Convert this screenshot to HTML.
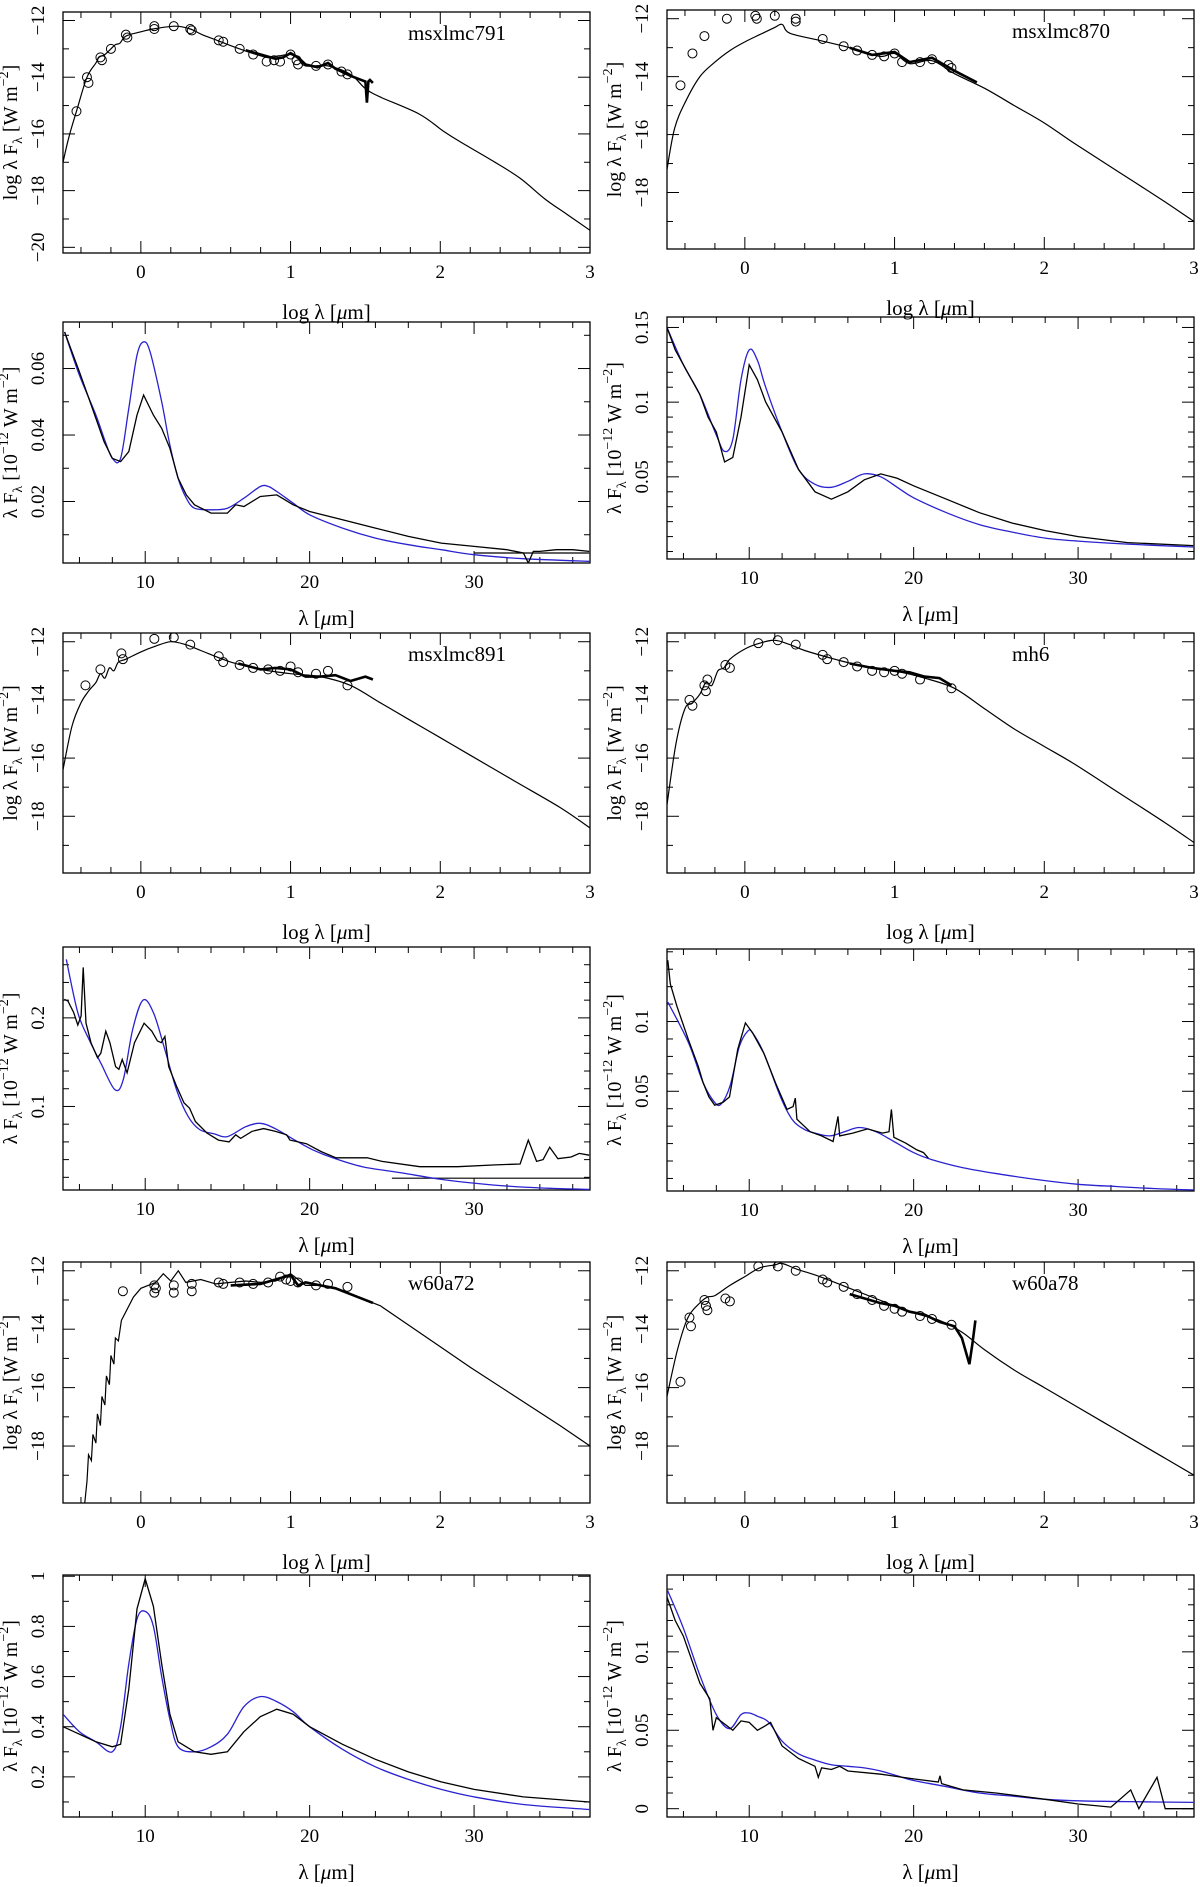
<!DOCTYPE html>
<html><head><meta charset="utf-8"><title>SED fits</title>
<style>
html,body{margin:0;padding:0;background:#fff;}
svg{display:block;font-family:"Liberation Serif",serif;}
</style></head>
<body>
<svg id="fig" xmlns="http://www.w3.org/2000/svg" width="1200" height="1887" viewBox="0 0 1200 1887"></svg>
<script>
// ===== Data arrays =====
// Panel A: msxlmc791 SED (log lambda, log lambda F)
const a_modelX=[-0.52,-0.48,-0.43,-0.36,-0.3,-0.28,-0.24,-0.2,-0.17,-0.14,-0.1,0,0.08,0.23,0.33,0.41,0.51,0.66,0.84,0.92,1.0,1.05,1.1,1.25,1.4,1.5,1.6,1.86,2.02,2.14,2.35,2.53,2.7,2.85,3.0];
const a_modelY=[-17.0,-16.1,-15.2,-14.0,-13.5,-13.3,-13.2,-13.0,-12.85,-12.8,-12.55,-12.4,-12.3,-12.2,-12.3,-12.5,-12.7,-13.0,-13.3,-13.25,-13.2,-13.35,-13.6,-13.6,-13.9,-14.4,-14.7,-15.3,-15.9,-16.3,-16.95,-17.55,-18.3,-18.85,-19.4];
const a_specX=[0.7,0.8,0.9,0.95,1.0,1.05,1.1,1.18,1.25,1.3,1.4,1.5,1.51,1.52,1.53,1.55];
const a_specY=[-13.05,-13.2,-13.35,-13.3,-13.15,-13.3,-13.55,-13.65,-13.5,-13.7,-13.95,-14.15,-14.9,-14.15,-14.1,-14.2];
const a_photX=[-0.43,-0.36,-0.35,-0.27,-0.26,-0.2,-0.1,-0.09,0.09,0.09,0.22,0.33,0.34,0.52,0.55,0.66,0.75,0.84,0.89,0.93,1.0,1.04,1.05,1.17,1.25,1.34,1.38];
const a_photY=[-15.2,-14.0,-14.2,-13.3,-13.4,-13.0,-12.5,-12.6,-12.2,-12.3,-12.2,-12.3,-12.35,-12.7,-12.75,-13.0,-13.2,-13.45,-13.4,-13.45,-13.2,-13.4,-13.55,-13.6,-13.55,-13.8,-13.9];
// Panel B: msxlmc870 SED
const b_modelX=[-0.52,-0.47,-0.4,-0.3,-0.2,-0.1,0,0.1,0.2,0.25,0.3,0.5,0.7,0.9,1.0,1.1,1.25,1.4,1.6,1.8,2.0,2.2,2.5,2.8,3.0];
const b_modelY=[-17.2,-15.8,-14.9,-14.0,-13.5,-13.1,-12.8,-12.55,-12.3,-12.2,-12.5,-12.75,-13.0,-13.3,-13.2,-13.55,-13.45,-13.9,-14.4,-15.0,-15.6,-16.3,-17.3,-18.3,-19.0];
const b_specX=[0.7,0.85,1.0,1.1,1.25,1.4,1.55];
const b_specY=[-13.0,-13.25,-13.15,-13.5,-13.35,-13.8,-14.2];
const b_photX=[-0.43,-0.35,-0.27,-0.12,0.07,0.08,0.2,0.34,0.34,0.52,0.66,0.75,0.85,0.93,1.0,1.05,1.17,1.25,1.36,1.38];
const b_photY=[-14.3,-13.2,-12.6,-12.0,-11.9,-12.0,-11.9,-12.1,-12.0,-12.7,-12.95,-13.1,-13.25,-13.3,-13.2,-13.5,-13.5,-13.4,-13.6,-13.7];
// Panel C: msxlmc791 spectrum (micron, 1e-12 W m-2)
const c_obsX=[5.1,6,6.5,7,7.5,8,8.5,9,9.5,9.9,10.5,11,11.5,12,12.5,13,14,15,15.5,16,17,18,19,20,22,24,26,28,30,32,33,33.3,33.6,34,35,36,37];
const c_obsY=[0.071,0.059,0.052,0.045,0.038,0.033,0.032,0.035,0.046,0.052,0.046,0.042,0.036,0.027,0.022,0.019,0.0165,0.0165,0.019,0.0185,0.0215,0.022,0.019,0.017,0.0145,0.012,0.0095,0.0075,0.0065,0.0055,0.0045,0.0015,0.005,0.005,0.0055,0.0055,0.005];
const c_modX=[5.1,6,7,7.5,8,8.5,9,9.5,9.9,10.3,11,11.5,12,12.5,13,14,15,16,17,17.5,18,19,20,22,24,26,28,30,33,37];
const c_modY=[0.071,0.058,0.046,0.039,0.033,0.033,0.048,0.064,0.068,0.065,0.05,0.037,0.027,0.021,0.018,0.0175,0.018,0.021,0.0245,0.0245,0.023,0.0195,0.016,0.012,0.009,0.007,0.0055,0.004,0.0028,0.002];
const c_refX=[30,37];
const c_refY=[0.0045,0.0045];
// Panel D: msxlmc870 spectrum
const d_obsX=[5,5.5,6,7,7.5,8,8.5,9,9.5,10,10.5,11,12,13,14,15,16,17,18,19,20,22,24,26,28,30,33,37];
const d_obsY=[0.15,0.135,0.125,0.105,0.09,0.08,0.06,0.063,0.09,0.125,0.115,0.1,0.08,0.055,0.04,0.035,0.04,0.048,0.052,0.049,0.044,0.035,0.026,0.019,0.014,0.01,0.006,0.004];
const d_modX=[5,6,7,8,8.5,9,9.5,10,10.5,11,12,13,14,15,16,17,18,19,20,22,24,26,28,30,33,37];
const d_modY=[0.15,0.125,0.105,0.078,0.067,0.075,0.115,0.135,0.128,0.11,0.08,0.055,0.045,0.043,0.047,0.052,0.05,0.043,0.036,0.026,0.018,0.013,0.009,0.007,0.005,0.003];
// Panel E: msxlmc891 SED
const e_modelX=[-0.52,-0.46,-0.4,-0.35,-0.3,-0.27,-0.24,-0.21,-0.18,-0.15,-0.1,0,0.1,0.2,0.3,0.4,0.6,0.8,1.0,1.2,1.4,1.6,1.8,2.0,2.2,2.5,2.8,3.0];
const e_modelY=[-16.4,-14.9,-14.1,-13.7,-13.4,-13.1,-13.25,-12.9,-13.0,-12.7,-12.6,-12.35,-12.15,-12.0,-12.1,-12.3,-12.7,-12.95,-13.1,-13.2,-13.5,-14.1,-14.7,-15.3,-15.9,-16.8,-17.7,-18.4];
const e_specX=[0.65,0.8,0.9,1.0,1.1,1.2,1.3,1.4,1.5,1.55];
const e_specY=[-12.75,-12.95,-12.9,-12.95,-13.2,-13.2,-13.15,-13.35,-13.2,-13.3];
const e_photX=[-0.37,-0.27,-0.13,-0.12,0.09,0.22,0.33,0.52,0.55,0.66,0.75,0.85,0.93,1.0,1.05,1.17,1.25,1.38];
const e_photY=[-13.5,-12.95,-12.4,-12.6,-11.9,-11.85,-12.1,-12.5,-12.7,-12.8,-12.9,-12.95,-13.0,-12.85,-13.05,-13.1,-13.0,-13.5];
// Panel F: mh6 SED
const f_modelX=[-0.52,-0.46,-0.4,-0.35,-0.3,-0.26,-0.22,-0.18,-0.14,-0.1,0,0.1,0.2,0.3,0.4,0.6,0.8,1.0,1.2,1.4,1.6,1.8,2.0,2.2,2.5,2.8,3.0];
const f_modelY=[-17.6,-15.5,-14.3,-14.1,-13.8,-13.4,-13.5,-13.0,-12.9,-12.6,-12.25,-12.05,-11.95,-12.1,-12.3,-12.6,-12.85,-13.0,-13.25,-13.6,-14.3,-15.0,-15.6,-16.2,-17.2,-18.2,-18.9];
const f_specX=[0.7,0.85,1.0,1.1,1.2,1.3,1.38];
const f_specY=[-12.75,-12.9,-13.0,-13.05,-13.2,-13.25,-13.5];
const f_photX=[-0.37,-0.35,-0.27,-0.26,-0.25,-0.13,-0.1,0.09,0.22,0.34,0.52,0.55,0.66,0.75,0.85,0.93,1.0,1.05,1.17,1.38];
const f_photY=[-14.0,-14.2,-13.5,-13.7,-13.3,-12.8,-12.9,-12.05,-11.95,-12.1,-12.45,-12.6,-12.7,-12.85,-13.0,-13.05,-13.0,-13.1,-13.3,-13.6];
// Panel G: msxlmc891 spectrum
const g_obsX=[5.07,5.3,5.65,5.9,6.1,6.23,6.4,6.7,7.1,7.3,7.6,7.85,8.2,8.4,8.6,8.9,9.35,9.93,10.4,10.74,10.97,11.2,11.43,11.9,12.36,12.7,13.05,13.75,14.45,15.1,15.5,15.8,16.5,17.2,17.9,18.6,18.8,19.8,20.7,21.6,23.5,24.4,26.7,29,31.3,32.8,33.3,33.8,34.2,34.6,35.1,35.9,36.4,37];
const g_obsY=[0.221,0.219,0.206,0.192,0.202,0.257,0.194,0.172,0.155,0.16,0.185,0.172,0.145,0.142,0.153,0.138,0.172,0.194,0.185,0.174,0.172,0.179,0.145,0.123,0.104,0.098,0.083,0.07,0.062,0.06,0.068,0.064,0.072,0.075,0.072,0.068,0.062,0.058,0.049,0.042,0.042,0.038,0.032,0.032,0.034,0.035,0.062,0.038,0.04,0.054,0.041,0.043,0.047,0.045];
const g_modX=[5.2,5.9,6.6,7.3,8.15,8.66,9.24,9.86,10.5,11.2,11.9,12.6,13.3,14.2,15,16.1,17,17.9,19.1,20.2,21.4,23.2,25.6,27.9,30.2,32.5,34.8,37];
const g_modY=[0.266,0.206,0.175,0.149,0.119,0.13,0.187,0.22,0.206,0.164,0.119,0.089,0.074,0.069,0.066,0.077,0.081,0.075,0.062,0.051,0.042,0.032,0.025,0.018,0.013,0.0095,0.0075,0.0064];
const g_refX=[25,37];
const g_refY=[0.019,0.019];
// Panel H: mh6 spectrum
const h_obsX=[5.05,5.2,5.6,6.3,6.9,7.2,7.55,7.9,8.4,8.8,9.3,9.77,10.2,10.9,11.6,12.3,12.67,12.8,12.9,13.7,14.4,15.1,15.4,15.5,16.3,17.2,18.1,18.5,18.65,18.8,19.5,20.2,20.6,20.9];
const h_obsY=[0.144,0.127,0.111,0.087,0.068,0.056,0.046,0.04,0.042,0.046,0.08,0.099,0.092,0.077,0.056,0.037,0.039,0.045,0.03,0.021,0.018,0.014,0.032,0.018,0.02,0.023,0.02,0.021,0.037,0.017,0.013,0.008,0.006,0.002];
const h_modX=[5.05,6.3,7.2,7.9,8.3,8.84,9.4,9.9,10.2,10.9,11.9,12.6,13.3,14,14.9,15.8,16.7,17.7,18.8,20,21.1,23,25.3,27.7,30,32.3,34.7,37];
const h_modY=[0.114,0.085,0.056,0.042,0.041,0.054,0.082,0.093,0.092,0.077,0.046,0.03,0.023,0.02,0.018,0.021,0.024,0.021,0.014,0.006,0.001,-0.0048,-0.0095,-0.0136,-0.0167,-0.0183,-0.0198,-0.0207];
// Panel I: w60a72 SED
const i_modelX=[-0.38,-0.36,-0.35,-0.33,-0.32,-0.3,-0.29,-0.27,-0.26,-0.24,-0.23,-0.21,-0.2,-0.18,-0.17,-0.15,-0.13,-0.1,-0.05,0,0.1,0.15,0.2,0.25,0.3,0.4,0.5,0.6,0.7,0.8,0.9,1.0,1.05,1.1,1.2,1.3,1.4,1.6,1.8,2.0,2.2,2.5,2.8,3.0];
const i_modelY=[-20.2,-19.2,-18.3,-18.5,-17.6,-17.9,-16.9,-17.3,-16.3,-16.6,-15.6,-15.9,-14.9,-15.2,-14.3,-14.4,-13.7,-13.4,-12.9,-12.6,-12.4,-12.1,-12.35,-12.0,-12.4,-12.3,-12.45,-12.4,-12.35,-12.4,-12.35,-12.1,-12.3,-12.5,-12.5,-12.6,-12.8,-13.2,-13.9,-14.6,-15.3,-16.3,-17.3,-18.0];
const i_specX=[0.6,0.8,0.9,1.0,1.05,1.1,1.2,1.3,1.45,1.55];
const i_specY=[-12.5,-12.45,-12.3,-12.15,-12.5,-12.4,-12.5,-12.6,-12.9,-13.1];
const i_photX=[-0.12,0.09,0.09,0.1,0.22,0.22,0.34,0.34,0.52,0.55,0.66,0.75,0.85,0.93,0.97,1.0,1.05,1.17,1.25,1.38];
const i_photY=[-12.7,-12.5,-12.75,-12.6,-12.5,-12.75,-12.45,-12.7,-12.4,-12.45,-12.4,-12.45,-12.4,-12.2,-12.3,-12.35,-12.4,-12.5,-12.45,-12.55];
// Panel J: w60a78 SED
const j_modelX=[-0.52,-0.45,-0.38,-0.3,-0.25,-0.2,-0.1,0,0.1,0.2,0.25,0.35,0.5,0.7,0.9,1.1,1.3,1.45,1.6,1.8,2.0,2.2,2.5,2.8,3.0];
const j_modelY=[-16.3,-14.7,-13.6,-13.1,-12.9,-12.85,-12.5,-12.2,-11.9,-11.8,-11.75,-11.95,-12.2,-12.6,-13.0,-13.4,-13.7,-14.1,-14.7,-15.4,-16.0,-16.6,-17.5,-18.4,-19.0];
const j_specX=[0.7,0.9,1.0,1.1,1.2,1.3,1.4,1.45,1.5,1.52,1.54];
const j_specY=[-12.8,-13.1,-13.2,-13.4,-13.5,-13.75,-13.9,-14.3,-15.2,-14.5,-13.7];
const j_photX=[-0.43,-0.37,-0.36,-0.27,-0.26,-0.25,-0.13,-0.1,0.09,0.22,0.34,0.52,0.55,0.66,0.75,0.85,0.93,1.0,1.05,1.17,1.25,1.38];
const j_photY=[-15.8,-13.6,-13.9,-13.0,-13.2,-13.35,-12.95,-13.05,-11.85,-11.85,-12.0,-12.3,-12.4,-12.55,-12.8,-13.0,-13.2,-13.3,-13.4,-13.55,-13.65,-13.85];
// Panel K: w60a72 spectrum
const k_obsX=[5,6,7,8,8.5,9,9.5,10,10.5,11,11.5,12,13,14,15,16,17,18,19,20,22,24,26,28,30,33,37];
const k_obsY=[0.4,0.37,0.34,0.32,0.33,0.55,0.87,0.99,0.88,0.65,0.45,0.34,0.3,0.29,0.3,0.38,0.44,0.47,0.45,0.4,0.33,0.27,0.22,0.18,0.15,0.12,0.1];
const k_modX=[5,6,7,8,8.5,9,9.5,10,10.5,11,11.5,12,13,14,15,16,17,18,19,20,22,24,26,28,30,33,37];
const k_modY=[0.45,0.38,0.34,0.3,0.4,0.65,0.83,0.86,0.8,0.6,0.43,0.32,0.3,0.32,0.37,0.48,0.52,0.5,0.46,0.4,0.31,0.24,0.19,0.15,0.12,0.09,0.07];
// Panel L: w60a78 spectrum
const l_obsX=[5,5.5,6,7,7.6,7.8,8,9,9.5,10,10.5,11,11.3,12,13,14,14.2,14.4,15,15.5,16,18,20,21.5,21.6,21.7,23,25,28,30,32,33.2,33.7,34.8,35.3,37];
const l_obsY=[0.135,0.12,0.11,0.08,0.07,0.05,0.058,0.05,0.056,0.055,0.05,0.053,0.055,0.04,0.032,0.027,0.02,0.026,0.025,0.027,0.024,0.022,0.019,0.017,0.021,0.016,0.012,0.01,0.006,0.003,0.001,0.012,0,0.02,0,0];
const l_modX=[5,6,7,8,8.8,9.5,10,10.5,11.2,12,13,14,15,16,17,18,19,20,22,24,26,28,30,33,37];
const l_modY=[0.14,0.115,0.085,0.06,0.051,0.06,0.061,0.059,0.055,0.043,0.035,0.031,0.028,0.027,0.026,0.024,0.021,0.018,0.014,0.01,0.008,0.006,0.005,0.0045,0.004];

// ===== Layout =====
const NS="http://www.w3.org/2000/svg";
const svg=document.getElementById('fig');
function mk(tag,attrs,parent){const e=document.createElementNS(NS,tag);for(const k in attrs)e.setAttribute(k,attrs[k]);(parent||svg).appendChild(e);return e;}

const panels=[
 {id:'msxlmc791-sed',type:'sed',x0:63,x1:590,y0:12,y1:253,ymin:-20.2,ymax:-11.7,name:'msxlmc791',mx:a_modelX,my:a_modelY,sx:a_specX,sy:a_specY,px:a_photX,py:a_photY},
 {id:'msxlmc870-sed',type:'sed',x0:667,x1:1194,y0:10,y1:249,ymin:-19.95,ymax:-11.7,name:'msxlmc870',mx:b_modelX,my:b_modelY,sx:b_specX,sy:b_specY,px:b_photX,py:b_photY},
 {id:'msxlmc791-spectrum',type:'spec',x0:63,x1:590,y0:322,y1:563,ymin:0.0015,ymax:0.074,minor:0.01,labels:[0.02,0.04,0.06],ox:c_obsX,oy:c_obsY,bx:c_modX,by:c_modY,rx:c_refX,ry:c_refY},
 {id:'msxlmc870-spectrum',type:'spec',x0:667,x1:1194,y0:317,y1:559,ymin:-0.005,ymax:0.157,minor:0.01,labels:[0.05,0.1,0.15],ox:d_obsX,oy:d_obsY,bx:d_modX,by:d_modY},
 {id:'msxlmc891-sed',type:'sed',x0:63,x1:590,y0:633,y1:873,ymin:-19.95,ymax:-11.7,name:'msxlmc891',mx:e_modelX,my:e_modelY,sx:e_specX,sy:e_specY,px:e_photX,py:e_photY},
 {id:'mh6-sed',type:'sed',x0:667,x1:1194,y0:633,y1:873,ymin:-19.95,ymax:-11.7,name:'mh6',mx:f_modelX,my:f_modelY,sx:f_specX,sy:f_specY,px:f_photX,py:f_photY},
 {id:'msxlmc891-spectrum',type:'spec',x0:63,x1:590,y0:947,y1:1190,ymin:0.0057,ymax:0.28,minor:0.02,labels:[0.1,0.2],ox:g_obsX,oy:g_obsY,bx:g_modX,by:g_modY,rx:g_refX,ry:g_refY},
 {id:'mh6-spectrum',type:'spec',x0:667,x1:1194,y0:949,y1:1191,ymin:-0.0215,ymax:0.152,minor:0.0125,labels:[0.05,0.1],ox:h_obsX,oy:h_obsY,bx:h_modX,by:h_modY},
 {id:'w60a72-sed',type:'sed',x0:63,x1:590,y0:1262,y1:1503,ymin:-19.95,ymax:-11.7,name:'w60a72',mx:i_modelX,my:i_modelY,sx:i_specX,sy:i_specY,px:i_photX,py:i_photY,jag:true},
 {id:'w60a78-sed',type:'sed',x0:667,x1:1194,y0:1262,y1:1503,ymin:-19.95,ymax:-11.7,name:'w60a78',mx:j_modelX,my:j_modelY,sx:j_specX,sy:j_specY,px:j_photX,py:j_photY},
 {id:'w60a72-spectrum',type:'spec',x0:63,x1:590,y0:1575,y1:1817,ymin:0.04,ymax:1.005,minor:0.1,labels:[0.2,0.4,0.6,0.8,1],ox:k_obsX,oy:k_obsY,bx:k_modX,by:k_modY},
 {id:'w60a78-spectrum',type:'spec',x0:667,x1:1194,y0:1575,y1:1817,ymin:-0.0053,ymax:0.149,minor:0.01,labels:[0,0.05,0.1],ox:l_obsX,oy:l_obsY,bx:l_modX,by:l_modY}
];

function fmt(v){return (v<0?'\u2212':'')+String(Math.abs(+v.toFixed(4)));}
function smooth(P){
  if(P.length<3) return 'M'+P.map(p=>p.join(',')).join(' L');
  let d='M'+P[0][0].toFixed(1)+','+P[0][1].toFixed(1);
  for(let i=0;i<P.length-1;i++){
    const p0=P[i-1]||P[i], p1=P[i], p2=P[i+1], p3=P[i+2]||P[i+1];
    const c1x=p1[0]+(p2[0]-p0[0])/6, c1y=p1[1]+(p2[1]-p0[1])/6;
    const c2x=p2[0]-(p3[0]-p1[0])/6, c2y=p2[1]-(p3[1]-p1[1])/6;
    d+=` C${c1x.toFixed(1)},${c1y.toFixed(1)} ${c2x.toFixed(1)},${c2y.toFixed(1)} ${p2[0].toFixed(1)},${p2[1].toFixed(1)}`;
  }
  return d;
}

panels.forEach(p=>{
  const g=mk('g',{});
  
  
  const xmin=p.type==='sed'?-0.52:5, xmax=p.type==='sed'?3.0:37.05;
  const X=v=>p.x0+(v-xmin)/(xmax-xmin)*(p.x1-p.x0);
  const Y=v=>p.y1-(v-p.ymin)/(p.ymax-p.ymin)*(p.y1-p.y0);
  const clip='clip-'+p.id;
  const cp=mk('clipPath',{id:clip},g);
  mk('rect',{x:p.x0,y:p.y0,width:p.x1-p.x0,height:p.y1-p.y0},cp);
  const tg=mk('g',{stroke:'#000','stroke-width':1},g);
  
  
  const xs=p.type==='sed'?0.2:2, x0t=p.type==='sed'?-0.4:6;
  for(let v=x0t;v<=xmax+1e-9;v+=xs){
    const vv=+v.toFixed(4);
    const major=p.type==='sed'?Math.abs(vv-Math.round(vv))<1e-6:(vv%10===0);
    const L=major?12:6, x=X(vv);
    mk('line',{x1:x,y1:p.y1,x2:x,y2:p.y1-L},tg);
    mk('line',{x1:x,y1:p.y0,x2:x,y2:p.y0+L},tg);
    if(major){
      const t=mk('text',{x:x,y:p.y1+25,'font-size':19,'text-anchor':'middle',fill:'#000',stroke:'none'},g);
      
      
      t.textContent=fmt(vv);
    }
  }
  let ys,ystart;
  if(p.type==='sed'){ys=1;ystart=Math.ceil(p.ymin);}else{ys=p.minor;ystart=p.labels[0]-Math.floor((p.labels[0]-p.ymin)/ys+1e-9)*ys;}
  for(let v=ystart;v<=p.ymax+1e-9;v+=ys){
    const vv=+v.toFixed(5);
    let major;
    if(p.type==='sed')major=(Math.round(vv)%2===0);
    else major=p.labels.some(l=>Math.abs(l-vv)<1e-6);
    const L=major?12:6, y=Y(vv);
    mk('line',{x1:p.x0,y1:y,x2:p.x0+L,y2:y},tg);
    mk('line',{x1:p.x1,y1:y,x2:p.x1-L,y2:y},tg);
    if(major){
      const cx=p.x0-19;
      const t=mk('text',{x:cx,y:y,'font-size':19,'text-anchor':'middle',transform:`rotate(-90 ${cx} ${y})`,fill:'#000'},g);
      
      
      t.textContent=fmt(vv);
    }
  }
  const fr=mk('rect',{x:p.x0,y:p.y0,width:p.x1-p.x0,height:p.y1-p.y0,fill:'none',stroke:'#000','stroke-width':1.3},g);
  
  
  const pts=(xa,ya)=>xa.map((x,i)=>X(x).toFixed(1)+','+Y(ya[i]).toFixed(1)).join(' ');
  const arr=(xa,ya)=>xa.map((x,i)=>[X(x),Y(ya[i])]);
  if(p.type==='sed'){
    let m;
    if(p.jag) m=mk('polyline',{points:pts(p.mx,p.my),fill:'none',stroke:'#000','stroke-width':1.2,'clip-path':`url(#${clip})`},g);
    else m=mk('path',{d:smooth(arr(p.mx,p.my)),fill:'none',stroke:'#000','stroke-width':1.2,'clip-path':`url(#${clip})`},g);
    
    
    const s=mk('polyline',{points:pts(p.sx,p.sy),fill:'none',stroke:'#000','stroke-width':2.6,'clip-path':`url(#${clip})`},g);
    
    
    p.px.forEach((x,i)=>{
      const c=mk('circle',{cx:X(x),cy:Y(p.py[i]),r:4.5,fill:'none',stroke:'#000','stroke-width':1},g);
      
      
    });
    const nm=mk('text',{x:p.x0+345,y:p.y0+28,'font-size':21,fill:'#000'},g);
    
    
    nm.textContent=p.name;
    const xl=mk('text',{x:(p.x0+p.x1)/2,y:p.y1+66,'font-size':21,'text-anchor':'middle',fill:'#000'},g);
    
    
    xl.innerHTML='log \u03bb [<tspan font-style="italic">\u03bc</tspan>m]';
    const cx=p.x0-46, cy=(p.y0+p.y1)/2;
    const yl=mk('text',{x:cx,y:cy,'font-size':20,'text-anchor':'middle',transform:`rotate(-90 ${cx} ${cy})`,fill:'#000'},g);
    
    
    yl.innerHTML='log \u03bb F<tspan font-size="14" dy="5">\u03bb</tspan><tspan dy="-5"> [W m</tspan><tspan font-size="14" dy="-9">\u22122</tspan><tspan dy="9">]</tspan>';
  } else {
    if(p.rx){
      const r=mk('polyline',{points:pts(p.rx,p.ry),fill:'none',stroke:'#000','stroke-width':1.2},g);
      
      
    }
    const b=mk('path',{d:smooth(arr(p.bx,p.by)),fill:'none',stroke:'#2a22d0','stroke-width':1.3,'clip-path':`url(#${clip})`},g);
    
    
    const o=mk('polyline',{points:pts(p.ox,p.oy),fill:'none',stroke:'#000','stroke-width':1.3,'clip-path':`url(#${clip})`},g);
    
    
    const xl=mk('text',{x:(p.x0+p.x1)/2,y:p.y1+62,'font-size':21,'text-anchor':'middle',fill:'#000'},g);
    
    
    xl.innerHTML='\u03bb [<tspan font-style="italic">\u03bc</tspan>m]';
    const cx=p.x0-46, cy=(p.y0+p.y1)/2;
    const yl=mk('text',{x:cx,y:cy,'font-size':20,'text-anchor':'middle',transform:`rotate(-90 ${cx} ${cy})`,fill:'#000'},g);
    
    
    yl.innerHTML='\u03bb F<tspan font-size="14" dy="5">\u03bb</tspan><tspan dy="-5"> [10</tspan><tspan font-size="14" dy="-9">\u221212</tspan><tspan dy="9"> W m</tspan><tspan font-size="14" dy="-9">\u22122</tspan><tspan dy="9">]</tspan>';
  }
});
</script>
</body></html>
